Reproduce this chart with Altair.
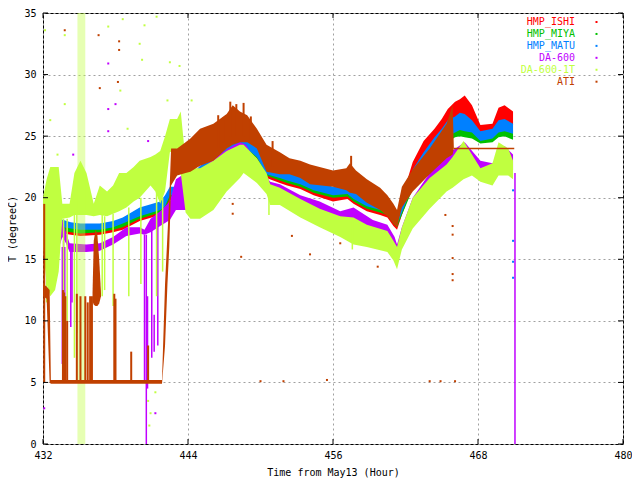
import altair as alt
import pandas as pd

FONT = "DejaVu Sans Mono"

SERIES = ["HMP_ISHI", "HMP_MIYA", "HMP_MATU", "DA-600", "DA-600-1T", "ATI"]
COLORS = ["#ff0000", "#00c000", "#0080ff", "#c000ff", "#c0ff40", "#c04000"]

X_TICKS = [432, 444, 456, 468, 480]
Y_TICKS = [0, 5, 10, 15, 20, 25, 30, 35]

# ---- HMP sensors (time, band low, band high) ----
HMP_T = [432.0, 433.0, 433.7, 434.3, 435.1, 436.7, 437.8, 438.6, 440.0, 441.7,
         442.1, 442.5, 443.1, 443.8, 445.0, 446.1, 447.7, 448.6, 449.1, 449.7,
         450.5, 451.6, 452.2, 453.3, 454.4, 456.0, 457.2, 457.7, 458.8, 459.9,
         460.5, 461.0, 461.3, 461.7, 462.6, 463.5, 464.4, 465.0, 465.5, 466.1,
         466.5, 466.9, 467.5, 468.2, 469.2, 469.7, 470.2, 470.9]
ISHI_LO = [17.4, 17.3, 17.1, 17.0, 16.9, 17.0, 17.2, 17.4, 18.1, 18.6,
           18.9, 19.8, 20.0, 20.3, 21.5, 22.2, 23.3, 23.8, 23.6, 23.0,
           21.6, 21.2, 21.0, 20.7, 20.2, 19.7, 19.9, 19.5, 18.9, 18.6,
           18.4, 17.7, 17.4, 18.6, 21.0, 22.5, 23.8, 24.6, 25.3, 26.2,
           26.5, 26.3, 26.0, 24.8, 25.0, 26.2, 26.3, 25.9]
ISHI_HI = [17.9, 17.8, 17.6, 17.5, 17.4, 17.4, 17.6, 17.9, 18.6, 19.1,
           19.5, 20.3, 20.5, 20.9, 22.0, 22.8, 23.9, 24.5, 24.4, 23.9,
           22.5, 22.0, 21.8, 21.5, 21.0, 20.5, 20.7, 20.2, 19.6, 19.2,
           19.0, 18.3, 18.0, 20.0, 22.9, 24.6, 25.6, 26.4, 27.2, 27.8,
           28.0, 28.3, 27.5, 25.9, 26.0, 27.3, 27.5, 27.0]
MIYA_LO = [17.6, 17.5, 17.3, 17.2, 17.1, 17.2, 17.4, 17.6, 18.3, 18.8,
           19.1, 20.0, 20.2, 20.5, 21.7, 22.4, 23.5, 23.9, 23.7, 23.2,
           21.8, 21.4, 21.2, 20.9, 20.4, 20.0, 20.1, 19.7, 19.1, 18.8,
           18.6, 17.9, 17.6, 18.6, 20.7, 22.0, 23.2, 23.9, 24.5, 24.9,
           25.0, 24.9, 24.8, 24.4, 24.5, 24.9, 25.0, 24.7]
MIYA_HI = [18.1, 18.0, 17.8, 17.7, 17.6, 17.6, 17.8, 18.1, 18.8, 19.4,
           19.8, 20.6, 20.7, 21.2, 22.3, 23.0, 24.1, 24.6, 24.4, 24.0,
           22.5, 22.0, 21.8, 21.4, 21.0, 20.6, 20.8, 20.3, 19.7, 19.3,
           19.1, 18.4, 18.2, 19.5, 21.9, 23.3, 24.4, 25.0, 25.6, 26.0,
           26.2, 26.0, 25.7, 25.0, 25.2, 25.8, 25.9, 25.5]
MATU_LO = [17.9, 17.8, 17.6, 17.5, 17.4, 17.4, 17.6, 17.9, 18.5, 19.0,
           19.3, 20.2, 20.3, 20.6, 21.8, 22.5, 23.6, 24.0, 23.8, 23.3,
           21.9, 21.6, 21.4, 21.1, 20.6, 20.2, 20.3, 19.9, 19.3, 19.0,
           18.8, 18.1, 17.8, 18.8, 21.0, 22.4, 23.6, 24.4, 25.0, 25.3,
           25.5, 25.4, 25.3, 24.6, 24.8, 25.3, 25.4, 25.2]
MATU_HI = [18.6, 18.4, 18.2, 18.0, 17.9, 17.9, 18.1, 18.4, 19.2, 19.7,
           20.2, 20.9, 20.9, 21.4, 22.6, 23.3, 24.4, 24.9, 24.7, 24.2,
           22.8, 22.2, 22.1, 21.8, 21.4, 20.9, 21.1, 20.6, 20.0, 19.6,
           19.4, 18.6, 18.5, 19.8, 22.3, 23.7, 24.9, 25.6, 26.3, 26.6,
           26.9, 26.8, 26.3, 25.4, 25.6, 26.3, 26.4, 26.0]

# ---- DA-600 ----
DA600_T = [432.0, 433.0, 433.4, 433.6, 433.9, 434.2, 435.6, 436.7, 437.8, 438.9,
           440.0, 440.4, 440.9, 441.7, 442.5, 443.0, 443.8, 444.2, 445.0, 446.1,
           447.7, 448.3, 448.8, 449.7, 450.8, 451.6, 453.3, 454.9, 456.6, 457.7,
           459.3, 460.5, 461.1, 461.3, 461.7, 462.6, 464.0, 465.4, 466.9, 468.2,
           469.2, 470.2, 470.9]
DA600_LO = [16.0, 16.0, 16.2, 16.8, 16.3, 15.6, 15.6, 15.7, 16.2, 16.9,
            17.1, 17.0, 17.2, 17.7, 18.2, 19.0, 19.0, 18.8, 19.5, 21.5,
            22.8, 23.5, 23.0, 21.5, 20.8, 20.0, 19.4, 18.6, 18.1, 18.2,
            17.4, 17.0, 16.0, 15.3, 16.5, 18.5, 20.0, 21.5, 22.5, 21.8,
            21.5, 22.5, 22.2]
DA600_HI = [16.6, 16.6, 17.2, 18.2, 17.2, 16.3, 16.2, 16.3, 16.8, 17.6,
            17.6, 17.4, 18.3, 18.9, 19.7, 21.5, 22.0, 21.5, 22.0, 23.2,
            24.2, 24.5, 24.3, 22.8, 21.3, 21.1, 20.2, 19.7, 18.9, 19.2,
            18.2, 17.8, 16.8, 16.2, 17.6, 20.0, 22.0, 23.5, 24.5, 23.0,
            22.8, 24.2, 23.5]
DA600_SPIKE_T = [433.6, 433.7, 433.8, 434.3, 434.4, 440.4, 440.55, 440.65, 441.0, 441.2, 441.5, 471.06]
DA600_SPIKE_LO = [6.5, 7.0, 8.5, 9.5, 11.5, 5.0, 0.0, 4.5, 7.0, 7.5, 8.0, 0.0]
DA600_SPIKE_HI = [16.0, 16.5, 16.0, 16.0, 15.8, 17.0, 17.0, 12.0, 17.5, 10.5, 18.0, 22.0]

# ---- DA-600-1T ----
DA1T_T = [432.0, 432.3, 432.6, 433.0, 433.3, 433.6, 434.2, 434.6, 435.1, 435.6,
          436.2, 436.7, 437.3, 437.8, 438.3, 438.9, 439.5, 440.0, 440.9, 441.3,
          441.7, 442.1, 442.5, 443.1, 443.4, 443.8, 444.2, 445.0, 446.1, 447.2,
          448.3, 448.6, 449.7, 450.5, 450.8, 451.6, 453.3, 454.9, 456.6, 457.7,
          458.8, 460.5, 461.0, 461.3, 461.7, 462.6, 464.0, 465.4, 465.9, 466.8,
          467.5, 468.2, 469.2, 469.7, 470.5, 470.9]
DA1T_LO = [16.0, 13.0, 12.0, 12.5, 14.0, 18.3, 18.4, 18.6, 18.6, 18.6,
           18.5, 18.6, 18.5, 18.7, 18.9, 19.2, 19.7, 20.0, 21.0, 20.5,
           19.5, 20.5, 23.7, 24.0, 22.0, 18.8, 18.3, 18.3, 19.0, 20.5,
           21.6, 22.0, 21.2, 20.3, 19.4, 19.4, 18.4, 17.6, 16.8, 16.2,
           16.0, 15.6, 14.9, 14.2, 15.8, 17.5, 19.1, 20.5, 20.8, 21.5,
           21.8, 21.3, 21.0, 21.8, 21.8, 21.5]
DA1T_HI = [20.0, 21.5, 22.5, 22.5, 22.5, 19.5, 19.5, 22.0, 23.0, 22.0,
           19.5, 21.0, 20.5, 21.0, 22.0, 22.0, 22.5, 23.0, 23.3, 23.5,
           23.8, 25.0, 26.4, 26.4, 27.0, 23.0, 22.4, 22.4, 23.0, 23.8,
           24.3, 24.3, 23.2, 22.0, 21.1, 20.8, 19.9, 19.1, 18.5, 18.4,
           17.8, 17.3, 16.5, 16.0, 17.6, 20.0, 21.6, 22.7, 23.3, 24.6,
           23.5, 22.4, 22.8, 24.5, 24.0, 23.0]
DA1T_SPIKE_T = [432.3, 433.7, 434.0, 434.6, 434.8, 436.9, 437.1, 437.8, 439.1, 440.1, 441.4, 441.9,
                450.7, 457.6]
DA1T_SPIKE_LO = [11.5, 8.0, 10.0, 7.0, 9.0, 12.0, 12.5, 11.2, 12.0, 13.0, 12.0, 14.0,
                 18.6, 15.8]
DA1T_SPIKE_HI = [16.0, 18.3, 18.3, 18.6, 18.6, 18.6, 18.5, 18.7, 19.2, 20.0, 20.5, 20.0,
                 21.0, 18.0]
DA1T_CLOUD_T0 = [434.85]
DA1T_CLOUD_T1 = [435.5]
DA1T_CLOUD_LO = [0.0]
DA1T_CLOUD_HI = [35.0]

# ---- ATI ----
ATI_T = [432.0, 432.3, 432.55, 432.65, 441.85, 442.1, 442.3, 442.45, 442.6, 443.1,
         443.8, 444.2, 445.0, 446.1, 447.2, 447.7, 448.3, 448.9, 449.4, 449.7,
         450.5, 451.6, 452.4, 453.3, 454.1, 456.0, 457.1, 457.4, 457.9, 458.8,
         459.9, 460.5, 461.0, 461.3, 461.7, 462.6, 464.0, 465.4, 465.9, 466.0]
ATI_LO = [12.0, 11.8, 5.0, 4.9, 4.9, 8.0, 13.0, 16.0, 21.0, 21.8,
          22.0, 22.1, 22.6, 23.0, 24.0, 24.3, 24.5, 24.5, 24.2, 24.0,
          22.1, 21.9, 21.9, 21.6, 21.1, 20.9, 20.6, 20.4, 20.3, 19.6,
          19.0, 18.5, 17.9, 17.6, 19.2, 20.5, 21.9, 23.2, 23.5, 24.0]
ATI_HI = [13.0, 12.8, 12.5, 5.2, 5.2, 13.0, 17.0, 20.0, 24.0, 24.0,
          24.5, 24.8, 25.6, 26.0, 26.8, 27.5, 27.0, 26.7, 26.0, 25.6,
          24.3, 23.7, 23.2, 23.0, 22.7, 22.2, 22.4, 22.8, 22.2, 21.5,
          20.8, 20.2, 19.5, 19.0, 20.9, 22.3, 24.0, 26.0, 27.5, 24.1]
ATI_BLOB_T = [436.1, 436.2, 436.35, 436.5, 436.65, 436.8]
ATI_BLOB_LO = [11.6, 11.3, 11.2, 11.2, 11.4, 12.0]
ATI_BLOB_HI = [12.3, 16.5, 17.4, 17.0, 15.0, 12.3]
ATI_SPIKE_T = [432.1, 433.65, 433.75, 433.85, 434.0, 434.8, 435.1, 435.5, 435.7, 435.9,
               436.05, 437.9, 438.0, 439.3, 440.7,
               446.5, 446.9, 447.5, 448.0, 448.6, 449.2, 451.0, 457.5]
ATI_SPIKE_LO = [5.0] * 15 + [24.0, 24.5, 25.0, 25.0, 25.0, 24.5, 22.5, 21.0]
ATI_SPIKE_HI = [19.5, 12.5, 12.3, 12.0, 10.0, 12.2, 12.0, 12.0, 11.5, 12.0,
                12.0, 12.2, 11.8, 7.5, 8.0,
                26.7, 26.5, 27.8, 27.6, 27.7, 26.6, 24.6, 23.4]
ATI_FLAT_T = [466.0, 471.0]
ATI_FLAT_V = [24.0, 24.0]

# ---- isolated dots (time, value, series index) ----
DOT_T = [432.17, 433.8, 437.4, 438.6, 440.0, 440.4, 441.4, 442.5, 443.3, 444.3,
         438.4, 440.2, 433.8, 432.6, 442.3, 439.0, 433.2, 440.7, 440.8, 440.9, 441.3,
         437.4, 437.4, 437.4, 438.0, 440.7, 434.5, 432.1, 441.3,
         433.8, 436.6, 438.3, 438.3, 438.2, 436.7, 450.0, 451.9, 455.5, 464.0,
         464.9, 466.1, 465.9, 465.9, 465.9, 465.9, 465.9, 465.3, 447.7, 447.7,
         448.4, 452.6, 456.6, 459.7, 454.1,
         470.9, 470.9, 470.9, 470.9]
DOT_V = [33.6, 33.2, 33.9, 34.5, 32.5, 34.0, 34.7, 31.0, 30.7, 27.9,
         28.7, 31.2, 27.6, 26.3, 27.9, 25.6, 23.5, 3.5, 1.5, 2.5, 4.2,
         30.9, 27.2, 25.4, 27.6, 24.6, 23.5, 2.9, 2.5,
         33.6, 33.2, 32.7, 32.0, 29.4, 28.9, 5.1, 5.1, 5.2, 5.1,
         5.1, 5.1, 17.7, 17.0, 15.1, 13.8, 13.3, 18.6, 19.5, 18.7,
         15.2, 16.9, 16.3, 14.4, 15.4,
         20.6, 16.5, 14.8, 13.5]
DOT_S = [4] * 21 + [3] * 8 + [5] * 25 + [2] * 4

W, H = 580, 431
XT = "Time from May13 (Hour)"
YT = "T (degreeC)"
xs = alt.Scale(domain=[432, 480], nice=False, zero=False)
ys = alt.Scale(domain=[0, 35], nice=False, zero=False)

xaxis = alt.Axis(values=X_TICKS, labelPadding=6, titlePadding=7)
yaxis = alt.Axis(values=Y_TICKS, labelPadding=7, titlePadding=6)


def X(f):
    return alt.X(f"{f}:Q", scale=xs, axis=xaxis, title=XT)


def Y(f):
    return alt.Y(f"{f}:Q", scale=ys, axis=yaxis, title=YT)


def band(t, lo, hi, color):
    df = pd.DataFrame({"t": t, "lo": lo, "hi": hi})
    return alt.Chart(df).mark_area(color=color, opacity=1, interpolate="linear").encode(
        x=X("t"), y=Y("lo"), y2="hi:Q")


def spikes(t, lo, hi, color, width=1.5):
    df = pd.DataFrame({"t": t, "lo": lo, "hi": hi})
    return alt.Chart(df).mark_rule(color=color, strokeWidth=width).encode(
        x=X("t"), y=Y("lo"), y2="hi:Q")


layers = [
    band(HMP_T, ISHI_LO, ISHI_HI, COLORS[0]),
    band(HMP_T, MIYA_LO, MIYA_HI, COLORS[1]),
    band(HMP_T, MATU_LO, MATU_HI, COLORS[2]),
    band(DA600_T, DA600_LO, DA600_HI, COLORS[3]),
    spikes(DA600_SPIKE_T, DA600_SPIKE_LO, DA600_SPIKE_HI, COLORS[3]),
    band(DA1T_T, DA1T_LO, DA1T_HI, COLORS[4]),
    spikes(DA1T_SPIKE_T, DA1T_SPIKE_LO, DA1T_SPIKE_HI, COLORS[4]),
    alt.Chart(pd.DataFrame({"t0": DA1T_CLOUD_T0, "t1": DA1T_CLOUD_T1,
                            "lo": DA1T_CLOUD_LO, "hi": DA1T_CLOUD_HI}))
    .mark_rect(color=COLORS[4], opacity=0.4)
    .encode(x=X("t0"), x2="t1:Q", y=Y("lo"), y2="hi:Q"),
    band(ATI_T, ATI_LO, ATI_HI, COLORS[5]),
    band(ATI_BLOB_T, ATI_BLOB_LO, ATI_BLOB_HI, COLORS[5]),
    spikes(ATI_SPIKE_T, ATI_SPIKE_LO, ATI_SPIKE_HI, COLORS[5], 2),
    alt.Chart(pd.DataFrame({"t": ATI_FLAT_T, "v": ATI_FLAT_V}))
    .mark_line(color=COLORS[5], strokeWidth=1.5)
    .encode(x=X("t"), y=Y("v")),
]

dots = pd.DataFrame({"t": DOT_T, "v": DOT_V, "s": [SERIES[i] for i in DOT_S]})
layers.append(
    alt.Chart(dots).mark_square(size=4, opacity=1).encode(
        x=X("t"), y=Y("v"),
        color=alt.Color("s:N", scale=alt.Scale(domain=SERIES, range=COLORS), legend=None))
)

# inward ticks on all four borders
yt = pd.DataFrame({"v": Y_TICKS})
xt = pd.DataFrame({"v": X_TICKS})
layers += [
    alt.Chart(yt).mark_rule(color="black").encode(y=Y("v"), x=alt.value(0), x2=alt.value(5)),
    alt.Chart(yt).mark_rule(color="black").encode(y=Y("v"), x=alt.value(W - 5), x2=alt.value(W)),
    alt.Chart(xt).mark_rule(color="black").encode(x=X("v"), y=alt.value(H - 5), y2=alt.value(H)),
    alt.Chart(xt).mark_rule(color="black").encode(x=X("v"), y=alt.value(0), y2=alt.value(5)),
]

# key: right-aligned coloured names with a sample dot
for i, (name, col) in enumerate(zip(SERIES, COLORS)):
    ldf = pd.DataFrame({"name": [name]})
    yy = 9 + 11.94 * i
    layers.append(alt.Chart(ldf).mark_text(align="right", baseline="middle", font=FONT,
                                           fontSize=10, color=col)
                  .encode(text="name:N", x=alt.value(532), y=alt.value(yy)))
    layers.append(alt.Chart(ldf).mark_square(size=4, color=col, opacity=1)
                  .encode(x=alt.value(553.5), y=alt.value(yy)))

chart = alt.layer(*layers).properties(
    width=W, height=H,
    padding={"left": 35, "top": 5, "right": 9, "bottom": 37},
    autosize=alt.AutoSizeParams(type="none"),
).configure_view(
    stroke="black", strokeWidth=1
).configure_axis(
    grid=True, ticks=False, domain=False, labelFont=FONT, labelFontSize=10,
    labelColor="black", titleFont=FONT, titleFontSize=10, titleFontWeight="normal",
    titleColor="black", gridColor="#a0a0a0", gridDash=[2, 3], gridWidth=1,
    labelFlush=False, format="d"
)

chart.save("out.html", embed_options={"renderer": "svg", "actions": False})
